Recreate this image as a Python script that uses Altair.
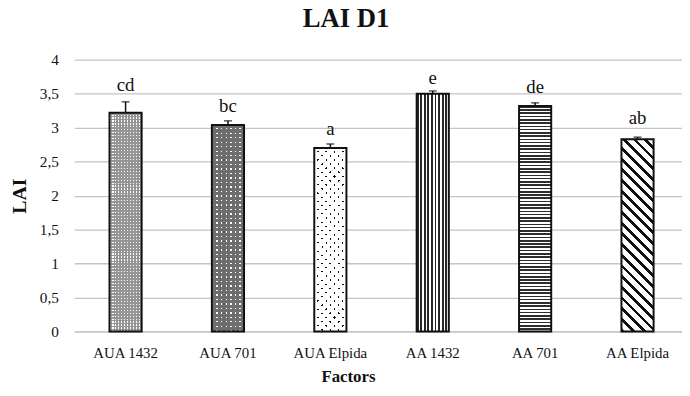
import math
import altair as alt
import pandas as pd

# ---- data ----
categories = ["AUA 1432", "AUA 701", "AUA Elpida", "AA 1432", "AA 701", "AA Elpida"]
lai = [3.22, 3.04, 2.70, 3.50, 3.32, 2.83]
err = [0.16, 0.06, 0.06, 0.04, 0.045, 0.03]
letters = ["cd", "bc", "a", "e", "de", "ab"]
letter_y = [3.54, 3.23, 2.89, 3.645, 3.505, 3.055]
y_ticks = [0, 0.5, 1, 1.5, 2, 2.5, 3, 3.5, 4]
title_text = ["LAI D1"]

df = pd.DataFrame({"cat": categories, "lai": lai, "err": err,
                   "letter": letters, "ly": letter_y})
df["top"] = df["lai"] + df["err"]

# ---- layout ----
W, H = 615, 275
PI, PO, AL = 0.686, 0.311, 0.554
YMAX = 4
step = W / (len(categories) - PI + 2 * PO)
BW = step * (1 - PI)
FONT = "Liberation Serif"
INK = "#111111"


def stops_for(n, frac, on, off):
    s = []
    for i in range(n):
        a = i / n
        b = (i + frac) / n
        c = (i + 1) / n
        s += [{"offset": a, "color": on}, {"offset": b, "color": on},
              {"offset": b, "color": off}, {"offset": c, "color": off}]
    return s


def vstripes(period, frac, on, off):
    n = max(1, round(BW / period))
    return {"gradient": "linear", "x1": 0, "y1": 0, "x2": 1, "y2": 0,
            "stops": stops_for(n, frac, on, off)}


def hstripes(h, period, frac, on, off):
    n = max(1, round(h / period))
    return {"gradient": "linear", "x1": 0, "y1": 0, "x2": 0, "y2": 1,
            "stops": stops_for(n, frac, on, off)}


def diag(h, period, frac, on, off, back=True):
    w = BW
    S = w * w + h * h
    dx = w * (w + h) / S
    dy = h * (w + h) / S
    n = max(1, round((w + h) / math.sqrt(2) / period))
    if back:  # "\" lines
        x1, y1, x2, y2 = 0, 1, dx, 1 - dy
    else:     # "/" lines
        x1, y1, x2, y2 = 0, 0, dx, dy
    return {"gradient": "linear", "x1": x1, "y1": y1, "x2": x2, "y2": y2,
            "stops": stops_for(n, frac, on, off)}


xscale = alt.Scale(paddingInner=PI, paddingOuter=PO, align=AL)
xaxis = alt.Axis(title="Factors", labelAngle=0, ticks=False,
                 domainColor="#c4c4c4", domainWidth=1.3,
                 labelFont=FONT, labelFontSize=15, labelColor=INK,
                 labelPadding=14, titleFont=FONT, titleFontSize=17,
                 titleFontWeight="bold", titleColor=INK,
                 titleX=277, titleY=46, titleBaseline="middle",
                 labelOverlap=False)
xenc = alt.X("cat:N", sort=categories, scale=xscale, axis=xaxis)
yscale = alt.Scale(domain=[0, YMAX], nice=False, zero=True)
yaxis = alt.Axis(title="LAI", values=y_ticks, ticks=False, domain=False,
                 grid=True, gridColor="#c4c4c4", gridWidth=1.3,
                 labelExpr="replace(toString(datum.value), '.', ',')",
                 labelFont=FONT, labelFontSize=15.5, labelColor=INK,
                 labelPadding=16, labelOverlap=False,
                 titleFont=FONT, titleFontSize=20,
                 titleFontWeight="bold", titleColor=INK,
                 titleX=-55, titleY=H / 2, titleBaseline="middle")


def yenc(field):
    return alt.Y(field, scale=yscale, axis=yaxis)


base = alt.Chart(df)


def hpx(i):
    return lai[i] * H / YMAX


T = "rgba(0,0,0,0)"
fills = {
    0: [vstripes(3.0, 0.38, "#ffffff", "#959595"),
        hstripes(hpx(0), 3.0, 0.62, "#959595", T)],
    1: [vstripes(4.5, 0.3, "#ffffff", "#6e6e6e"),
        hstripes(hpx(1), 4.5, 0.7, "#6e6e6e", T)],
    2: [diag(hpx(2), 5.9, 0.25, "#111111", "#ffffff", back=True),
        diag(hpx(2), 5.9, 0.75, "#ffffff", T, back=False)],
    3: [vstripes(3.7, 0.55, "#262626", "#ffffff")],
    4: [hstripes(hpx(4), 3.3, 0.5, "#2e2e2e", "#ffffff")],
    5: [diag(hpx(5), 7.8, 0.36, "#111111", "#ffffff", back=True)],
}

layers = []
for i, cat in enumerate(categories):
    for f in fills[i]:
        layers.append(
            base.transform_filter(alt.datum.cat == cat)
            .mark_bar(fill=f, strokeWidth=0)
            .encode(x=xenc, y=yenc("lai:Q"))
        )

outline = base.mark_bar(fillOpacity=0, stroke=INK, strokeWidth=2).encode(
    x=xenc, y=yenc("lai:Q"))
rule = base.mark_rule(color=INK, strokeWidth=1.5).encode(
    x=xenc, y=yenc("lai:Q"), y2="top:Q")
cap = base.mark_tick(color=INK, thickness=1.5, size=8).encode(
    x=xenc, y=yenc("top:Q"))
labels = base.mark_text(font=FONT, fontSize=19, baseline="alphabetic",
                        align="center", color=INK).encode(
    x=xenc, y=yenc("ly:Q"), text="letter:N")
title = alt.Chart(pd.DataFrame({"t": title_text})).mark_text(
    font=FONT, fontSize=27, fontWeight="bold", color=INK,
    baseline="alphabetic", align="center").encode(
    x=alt.value(275), y=alt.value(-33), text="t:N")

chart = alt.layer(*layers, outline, rule, cap, labels, title).properties(
    width=W, height=H,
    padding={"left": 67, "top": 50, "right": 0, "bottom": 63},
    autosize=alt.AutoSizeParams(type="none"),
).configure_view(stroke=None)

chart.save("out.html", embed_options={"renderer": "svg", "actions": False})
